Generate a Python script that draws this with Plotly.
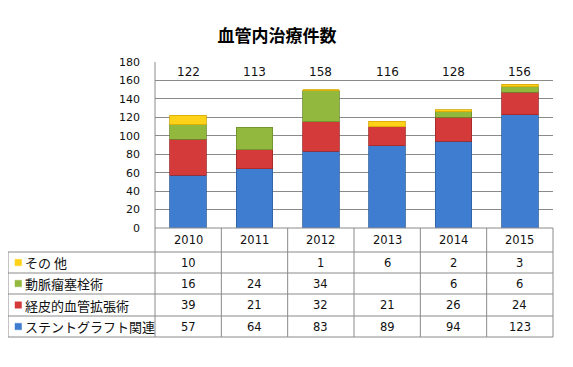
import plotly.graph_objects as go

years = ["2010", "2011", "2012", "2013", "2014", "2015"]
stent = [57, 64, 83, 89, 94, 123]
pta = [39, 21, 32, 21, 26, 24]
embol = [16, 24, 34, None, 6, 6]
other = [10, None, 1, 6, 2, 3]
totals = [122, 113, 158, 116, 128, 156]

series = [
    ("ステントグラフト関連", stent, "#3F7DD1"),
    ("経皮的血管拡張術", pta, "#D43A3A"),
    ("動脈瘤塞栓術", embol, "#93B83E"),
    ("その 他", other, "#FFD21A"),
]
line_colors = ["#2F5E9E", "#A02828", "#6E8C2C", "#D4A800"]

OFF = 8  # page body margin
W, H = 573 - OFF, 367 - OFF
L, R, T, B = 155 - OFF, 553 - OFF, 62 - OFF, 228 - OFF  # plot area in figure px


def px_x(px):
    return (px - OFF - L) / (R - L)


def px_y(py):
    return (B - (py - OFF)) / (B - T)


NUMFONT = "DejaVu Sans, Noto Sans CJK JP"
JPFONT = "Noto Sans CJK JP, DejaVu Sans"

fig = go.Figure()
for (name, vals, col), lc in zip(series, line_colors):
    fig.add_trace(go.Bar(
        x=years, y=vals, name=name, width=0.55,
        marker=dict(color=col, line=dict(color=lc, width=0.8)),
        showlegend=False, hoverinfo="x+y+name",
    ))

shapes = []
annotations = []
GRID = "#8A8A8A"


def col_center(i):
    return (i + 0.5) / len(years)


# totals above bars
for i, t in enumerate(totals):
    annotations.append(dict(x=col_center(i), xref="paper", y=px_y(72), yref="paper", text=str(t),
                            xanchor="center", yanchor="middle", showarrow=False,
                            font=dict(family=NUMFONT, size=12, color="#111")))

# table rows (px boundaries)
row_lines = [252, 273, 294, 316, 337]
row_centers = [262.5, 283.5, 305, 326.5]
table_rows = list(reversed(series))  # top row: その他

# header row text
for i, yr in enumerate(years):
    annotations.append(dict(x=col_center(i), xref="paper", y=px_y(240), yref="paper", text=yr,
                            xanchor="center", yanchor="middle", showarrow=False,
                            font=dict(family=NUMFONT, size=11.5, color="#111")))

for (name, vals, col), cy in zip(table_rows, row_centers):
    for i, v in enumerate(vals):
        if v is not None:
            annotations.append(dict(x=col_center(i), xref="paper", y=px_y(cy), yref="paper",
                                    text=str(v), xanchor="center", yanchor="middle",
                                    showarrow=False,
                                    font=dict(family=NUMFONT, size=11.5, color="#111")))
    # legend square
    shapes.append(dict(type="rect", xref="paper", yref="paper",
                       x0=px_x(15), x1=px_x(21.5), y0=px_y(cy - 3.2), y1=px_y(cy + 3.2),
                       fillcolor=col, line=dict(color=col, width=0.5)))
    annotations.append(dict(x=px_x(22.5), xref="paper", y=px_y(cy), yref="paper", text=name,
                            xanchor="left", yanchor="middle", showarrow=False,
                            font=dict(family=JPFONT, size=13, color="#111")))

# table horizontal lines
for ly in row_lines:
    shapes.append(dict(type="line", xref="paper", yref="paper",
                       x0=px_x(8), x1=1, y0=px_y(ly), y1=px_y(ly),
                       line=dict(color=GRID, width=1)))
# bottom axis line (top of header)
shapes.append(dict(type="line", xref="paper", yref="paper",
                   x0=0, x1=1, y0=0, y1=0, line=dict(color=GRID, width=1)))
# vertical lines
for i in range(len(years) + 1):
    xp = i / len(years)
    shapes.append(dict(type="line", xref="paper", yref="paper",
                       x0=xp, x1=xp, y0=0, y1=px_y(337), line=dict(color=GRID, width=1)))
shapes.append(dict(type="line", xref="paper", yref="paper",
                   x0=px_x(8), x1=px_x(8), y0=px_y(252), y1=px_y(337),
                   line=dict(color=GRID, width=1)))
# left axis line
shapes.append(dict(type="line", xref="paper", yref="paper",
                   x0=0, x1=0, y0=0, y1=1, line=dict(color=GRID, width=1)))

fig.update_layout(
    width=W, height=H,
    margin=dict(l=L, r=W - R, t=T, b=H - B, autoexpand=False),
    paper_bgcolor="white", plot_bgcolor="white",
    barmode="stack",
    title=dict(text="<b>血管内治療件数</b>", x=(277 - OFF) / W,
               xanchor="center", y=1 - (36 - OFF) / H, yanchor="middle",
               font=dict(family=JPFONT, size=17, color="#000")),
    xaxis=dict(type="category", categoryorder="array", categoryarray=years,
               range=[-0.5, 5.5], showticklabels=False, showgrid=False,
               zeroline=False, showline=False, ticks=""),
    yaxis=dict(range=[0, 180], dtick=20, showgrid=True, gridcolor=GRID, gridwidth=1,
               zeroline=False, showline=False, ticks="", ticklabelstandoff=14,
               tickfont=dict(family=NUMFONT, size=11, color="#111")),
    shapes=shapes, annotations=annotations,
)

fig.write_html("out.html")
